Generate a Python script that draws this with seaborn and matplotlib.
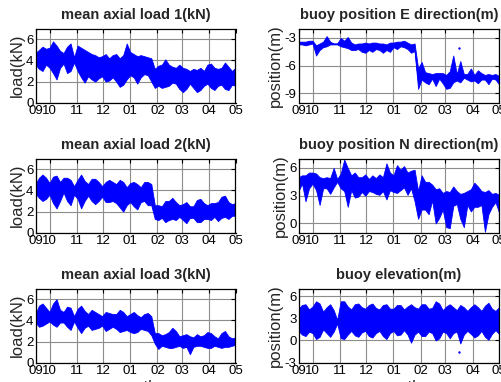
import numpy as np
import pandas as pd
import matplotlib
matplotlib.use("Agg")
import matplotlib.pyplot as plt
import matplotlib.dates as mdates
import seaborn as sns

# sampling dates (every 4 days), envelope of the dense records
dates = pd.date_range("2012-09-15", "2013-05-01", freq="4D")

load1_lo = [3.6, 3.2, 3.0, 3.6, 3.3, 2.8, 2.2, 3.3, 3.7, 2.8,
            3.0, 3.8, 3.0, 2.4, 1.9, 2.5, 2.2, 2.0, 2.3, 2.5,
            2.0, 2.1, 2.4, 2.0, 1.5, 1.7, 2.2, 2.6, 2.4, 1.8,
            2.4, 2.7, 2.6, 2.0, 1.4, 1.6, 1.4, 1.5, 1.6, 1.9,
            1.8, 1.3, 1.0, 1.3, 1.8, 1.4, 1.0, 1.2, 1.6, 1.8,
            1.4, 1.2, 1.6, 1.7, 1.3, 1.2, 1.7, 1.6]
load1_hi = [4.7, 5.0, 5.3, 5.1, 5.2, 5.8, 5.4, 4.9, 4.7, 5.3,
            5.6, 4.3, 5.4, 5.2, 5.0, 4.8, 4.6, 4.5, 4.3, 4.4,
            4.6, 4.2, 4.5, 4.6, 4.2, 4.5, 5.6, 4.8, 4.6, 4.4,
            4.5, 4.4, 4.3, 4.2, 3.2, 3.5, 3.6, 4.1, 3.6, 3.4,
            3.3, 3.6, 3.3, 3.2, 3.0, 3.2, 3.1, 3.3, 3.0, 3.6,
            3.7, 3.3, 3.2, 3.3, 3.8, 3.4, 3.0, 3.3]

load2_lo = [3.7, 3.3, 3.0, 3.2, 3.6, 2.8, 2.3, 3.0, 3.8, 3.0,
            2.6, 3.6, 3.2, 2.3, 3.0, 3.5, 3.0, 2.7, 3.0, 3.4,
            2.9, 2.9, 3.0, 2.8, 2.4, 2.0, 2.6, 2.9, 2.5, 2.2,
            2.9, 3.0, 2.6, 2.6, 1.3, 1.2, 1.4, 1.0, 1.2, 1.3,
            1.2, 1.5, 1.2, 0.9, 1.4, 1.4, 1.0, 1.0, 1.3, 1.3,
            1.2, 1.5, 1.1, 1.4, 1.5, 1.3, 1.6, 1.6]
load2_hi = [4.6, 5.2, 5.5, 5.2, 4.7, 5.3, 5.4, 4.8, 5.2, 5.2,
            5.0, 4.4, 5.0, 5.5, 4.9, 4.6, 5.1, 5.1, 4.8, 4.4,
            4.8, 5.0, 4.8, 4.6, 5.0, 4.8, 4.3, 4.7, 4.8, 4.6,
            4.3, 4.8, 4.8, 4.6, 2.6, 2.6, 2.5, 3.0, 3.0, 3.3,
            2.9, 2.6, 2.7, 2.9, 2.5, 2.5, 3.1, 3.2, 2.8, 2.6,
            2.8, 2.8, 2.9, 3.4, 3.5, 2.9, 2.7, 2.8]

load3_lo = [3.8, 3.4, 3.5, 3.7, 3.9, 3.6, 3.4, 3.8, 3.8, 3.4,
            3.1, 3.9, 3.3, 2.8, 3.3, 3.5, 3.1, 3.2, 3.3, 3.5,
            3.0, 3.2, 3.4, 3.2, 2.9, 3.0, 3.1, 2.9, 2.8, 2.9,
            3.2, 3.1, 3.0, 2.6, 1.8, 1.3, 1.6, 1.5, 1.4, 1.4,
            1.5, 1.6, 1.4, 1.5, 0.8, 1.5, 1.6, 1.6, 1.5, 1.4,
            1.4, 1.6, 1.5, 1.4, 1.5, 1.5, 1.6, 1.7]
load3_hi = [4.6, 5.4, 5.6, 5.2, 4.8, 5.6, 6.0, 5.0, 4.8, 5.3,
            5.2, 4.4, 5.1, 5.4, 4.9, 4.6, 5.0, 4.8, 4.6, 4.4,
            4.8, 4.7, 4.6, 4.6, 5.0, 4.8, 4.4, 4.6, 4.8, 4.5,
            4.3, 4.6, 4.7, 4.4, 2.8, 2.8, 2.6, 2.7, 2.9, 3.3,
            3.0, 2.5, 2.6, 2.7, 2.5, 2.4, 2.7, 2.5, 2.6, 2.9,
            2.8, 2.5, 2.3, 2.8, 3.0, 2.5, 2.3, 2.4]

east_lo = [-3.7, -3.7, -3.8, -3.7, -3.6, -4.9, -4.3, -4.0, -3.9, -3.7,
           -3.7, -3.7, -3.9, -4.0, -4.1, -4.3, -4.3, -4.2, -4.5, -4.6,
           -4.3, -4.5, -4.2, -4.3, -4.6, -4.3, -4.5, -4.0, -4.2, -3.9,
           -4.0, -4.2, -4.6, -4.4, -8.5, -7.5, -7.8, -8.0, -7.4, -8.2,
           -7.4, -7.9, -8.5, -8.4, -7.8, -7.6, -7.8, -7.3, -7.5, -7.7,
           -7.6, -7.9, -7.5, -7.5, -8.0, -7.4, -7.5, -8.0]
east_hi = [-3.4, -3.4, -3.4, -3.3, -3.3, -3.8, -3.6, -3.4, -2.8, -3.4,
           -3.6, -3.6, -3.0, -3.3, -2.9, -3.5, -3.7, -3.6, -3.6, -3.5,
           -3.6, -3.5, -3.5, -3.6, -3.6, -3.7, -3.5, -3.5, -3.4, -3.4,
           -3.3, -3.5, -3.7, -3.6, -6.3, -5.6, -6.7, -6.8, -6.9, -6.8,
           -6.8, -6.8, -7.0, -6.6, -4.9, -6.9, -5.5, -6.9, -6.9, -6.3,
           -7.0, -6.5, -6.8, -7.0, -6.9, -7.0, -6.9, -7.1]

north_lo = [3.5, 4.3, 2.4, 3.8, 4.3, 3.6, 2.0, 3.8, 3.8, 3.2,
            3.9, 4.5, 3.8, 3.5, 1.8, 3.6, 2.8, 2.9, 3.4, 3.0,
            3.5, 3.4, 3.2, 3.1, 3.5, 2.6, 3.6, 3.4, 3.3, 3.6,
            3.9, 3.1, 3.8, 2.4, 0.5, 1.5, 1.5, 1.0, 2.5, 0.0,
            0.6, 1.5, -0.4, -0.5, 1.9, 2.1, 0.5, -0.4, 2.0, 1.3,
            1.8, 1.8, 2.0, -0.9, 1.0, 1.8, 2.3, 1.2]
north_hi = [5.0, 5.2, 5.2, 5.5, 5.5, 5.4, 5.0, 4.9, 5.0, 4.9,
            6.0, 4.8, 5.4, 6.9, 6.0, 5.2, 5.5, 5.0, 5.0, 5.3,
            4.8, 5.2, 4.9, 5.3, 5.0, 6.5, 5.5, 5.2, 6.3, 5.8,
            6.2, 5.5, 5.7, 5.8, 3.5, 5.2, 4.5, 4.5, 4.2, 3.7,
            3.8, 3.3, 3.5, 3.4, 4.0, 3.5, 3.2, 3.3, 3.5, 3.7,
            4.4, 4.0, 3.5, 3.4, 3.6, 3.2, 3.3, 3.1]

elev_lo = [1.3, 0.8, 0.6, 1.2, 1.0, 0.2, 0.5, 1.5, 1.0, 0.5,
           1.2, 2.3, 0.3, 0.2, 0.8, 1.3, 0.7, 0.5, 1.1, 1.3,
           0.6, 0.4, 1.0, 1.3, 0.6, 0.2, 1.0, 1.3, 0.7, 0.8,
           1.4, 0.8, -0.3, 0.8, 1.2, 0.6, 0.6, 1.2, 1.0, 0.0,
           0.3, 1.2, 1.0, 0.3, 1.0, 1.2, -0.4, 0.8, 1.3, 0.9,
           0.4, 0.7, 1.3, 0.5, 0.1, 0.9, 1.4, 0.9]
elev_hi = [4.3, 4.8, 4.9, 4.2, 4.6, 5.3, 5.0, 3.9, 4.5, 4.9,
           4.1, 2.8, 5.3, 5.3, 4.6, 4.2, 4.9, 5.0, 4.5, 4.3,
           4.8, 5.0, 4.4, 4.2, 4.8, 4.9, 4.3, 4.3, 4.8, 4.8,
           4.2, 4.6, 4.9, 4.5, 4.3, 4.9, 4.9, 4.3, 4.4, 5.3,
           5.0, 4.1, 4.6, 4.9, 4.5, 4.1, 4.8, 4.5, 4.0, 4.5,
           4.9, 4.5, 4.0, 4.7, 5.1, 4.3, 4.0, 4.5]

# stray single samples
east_dot_date = ["2013-03-16"]
east_dot_val = [-4.1]
elev_dot_date = ["2013-03-16"]
elev_dot_val = [-1.5]

tick_dates = ["2012-09-15", "2012-10-01", "2012-11-01", "2012-12-01", "2013-01-01",
              "2013-02-01", "2013-03-01", "2013-04-01", "2013-05-01"]
tick_labels = ["09", "10", "11", "12", "01", "02", "03", "04", "05"]

sns.set_theme(style="white")
plt.rcParams["font.family"] = ["Liberation Sans", "DejaVu Sans"]
plt.rcParams["axes.unicode_minus"] = False


def envelope(ax, lo, hi, title, ylabel, ylim, yticks, dot_date=None, dot_val=None, xlabel=None):
    df = pd.DataFrame({"date": list(dates) * 2, "value": list(lo) + list(hi)})
    sns.lineplot(data=df, x="date", y="value", ax=ax, color="blue", linewidth=0.6,
                 errorbar=("pi", 100), err_kws={"alpha": 1, "linewidth": 0.6})
    if dot_date is not None:
        sns.scatterplot(x=pd.to_datetime(dot_date), y=dot_val, ax=ax, color="blue",
                        s=3, linewidth=0)
    td = mdates.date2num(pd.to_datetime(tick_dates))
    ax.set_xlim(td[0], td[-1])
    ax.set_xticks(td)
    ax.set_xticklabels(tick_labels)
    ax.set_ylim(*ylim)
    ax.set_yticks(yticks)
    ax.set_yticklabels([str(v) for v in yticks])
    ax.grid(True, color="#8c8c8c", linewidth=0.8)
    ax.set_axisbelow(True)
    for s in ax.spines.values():
        s.set_color("black")
        s.set_linewidth(0.9)
    ax.tick_params(direction="in", length=3, width=0.8, top=True, right=True,
                   labelsize=9.5, pad=1.5, colors="black")
    ax.set_title(title, fontsize=10.5, fontweight="bold", pad=7)
    ax.set_ylabel(ylabel, fontsize=12, labelpad=1)
    ax.set_xlabel(xlabel if xlabel else "", fontsize=12, labelpad=2)


fig = plt.figure(figsize=(5.02, 3.82), dpi=100)
W, H = 502, 382
cols = [(35.5, 235.5), (298.5, 499.0)]
rows = [(28.7, 102.7), (158.7, 232.7), (288.7, 362.7)]
axes = [[fig.add_axes([c[0] / W, 1 - r[1] / H, (c[1] - c[0]) / W, (r[1] - r[0]) / H])
         for c in cols] for r in rows]

envelope(axes[0][0], load1_lo, load1_hi, "mean axial load 1(kN)", "load(kN)", (0, 7), [0, 2, 4, 6])
envelope(axes[1][0], load2_lo, load2_hi, "mean axial load 2(kN)", "load(kN)", (0, 7), [0, 2, 4, 6])
envelope(axes[2][0], load3_lo, load3_hi, "mean axial load 3(kN)", "load(kN)", (0, 7), [0, 2, 4, 6],
         xlabel="month")
envelope(axes[0][1], east_lo, east_hi, "buoy position E direction(m)", "position(m)", (-10, -2),
         [-9, -6, -3], east_dot_date, east_dot_val)
envelope(axes[1][1], north_lo, north_hi, "buoy position N direction(m)", "position(m)", (-1, 7),
         [0, 3, 6])
envelope(axes[2][1], elev_lo, elev_hi, "buoy elevation(m)", "position(m)", (-3, 7), [-3, 0, 3, 6],
         elev_dot_date, elev_dot_val, xlabel="month")

fig.savefig("out.png", dpi=100)
